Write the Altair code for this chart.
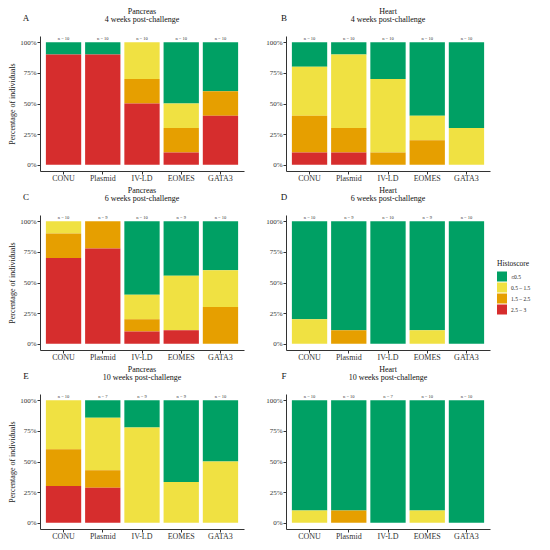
import altair as alt
import pandas as pd

groups = ["CONU", "Plasmid", "IV-LD", "EOMES", "GATA3"]
scores = ["≤0.5", "0.5 – 1.5", "1.5 – 2.5", "2.5 – 3"]
colors = ["#00A064", "#F0E142", "#E69F00", "#D62D2D"]

# counts of individuals per histoscore class, per group (CONU, Plasmid, IV-LD, EOMES, GATA3)
A_green = [1, 1, 0, 5, 4]
A_yellow = [0, 0, 3, 2, 0]
A_orange = [0, 0, 2, 2, 2]
A_red = [9, 9, 5, 1, 4]

B_green = [2, 1, 3, 6, 7]
B_yellow = [4, 6, 6, 2, 3]
B_orange = [3, 2, 1, 2, 0]
B_red = [1, 1, 0, 0, 0]

C_green = [0, 0, 6, 4, 4]
C_yellow = [1, 0, 2, 4, 3]
C_orange = [2, 2, 1, 0, 3]
C_red = [7, 7, 1, 1, 0]

D_green = [8, 8, 10, 8, 10]
D_yellow = [2, 0, 0, 1, 0]
D_orange = [0, 1, 0, 0, 0]
D_red = [0, 0, 0, 0, 0]

E_green = [0, 1, 2, 6, 5]
E_yellow = [4, 3, 7, 3, 5]
E_orange = [3, 1, 0, 0, 0]
E_red = [3, 2, 0, 0, 0]

F_green = [9, 9, 7, 9, 10]
F_yellow = [1, 0, 0, 1, 0]
F_orange = [0, 1, 0, 0, 0]
F_red = [0, 0, 0, 0, 0]

panels = [
    ("A", "Pancreas", 4, [A_green, A_yellow, A_orange, A_red]),
    ("B", "Heart", 4, [B_green, B_yellow, B_orange, B_red]),
    ("C", "Pancreas", 6, [C_green, C_yellow, C_orange, C_red]),
    ("D", "Heart", 6, [D_green, D_yellow, D_orange, D_red]),
    ("E", "Pancreas", 10, [E_green, E_yellow, E_orange, E_red]),
    ("F", "Heart", 10, [F_green, F_yellow, F_orange, F_red]),
]

FONT = "Liberation Serif"
W, H = 204, 135

legend = alt.Legend(
    title="Histoscore", orient="none", legendX=457, legendY=224,
    symbolType="square", symbolSize=100, symbolStrokeWidth=0,
    titleFontSize=7.5, titleFontWeight="normal", titleColor="#111",
    labelFontSize=5.5, labelColor="#222", rowPadding=1, titlePadding=4,
)


def make_panel(letter, organ, weeks, counts, left):
    rows = []
    for si, s in enumerate(scores):
        for gi, g in enumerate(groups):
            rows.append({"group": g, "score": s, "count": counts[si][gi], "ord": 3 - si})
    d = pd.DataFrame(rows)
    nd = pd.DataFrame({
        "group": groups,
        "label": ["n = %d" % sum(c[gi] for c in counts) for gi in range(len(groups))],
    })
    yaxis = alt.Axis(values=[0, 0.25, 0.5, 0.75, 1], format=".0%", labelOverlap=False,
                     title="Percentage of individuals" if left else None,
                     labelFontSize=7, labelColor="#333", tickSize=3, labelPadding=1,
                     titleFontSize=8, titleFontWeight="normal", titleColor="#222",
                     titlePadding=3)
    yscale = alt.Scale(domain=[-0.05, 1.05], nice=False, zero=False)
    xenc = alt.X("group:N", sort=groups,
                 scale=alt.Scale(paddingInner=0.1, paddingOuter=0.15),
                 axis=alt.Axis(title=None, labelAngle=0, labelFontSize=8, labelColor="#333",
                               tickSize=3, labelPadding=0))
    bars = alt.Chart(d).mark_bar().encode(
        x=xenc,
        y=alt.Y("count:Q", stack="normalize", scale=yscale, axis=yaxis),
        color=alt.Color("score:N", scale=alt.Scale(domain=scores, range=colors), legend=legend),
        order=alt.Order("ord:Q"),
    )
    ntext = alt.Chart(nd).mark_text(fontSize=4.5, baseline="bottom", dy=-1, color="#333").encode(
        x=xenc,
        y=alt.YDatum(1.0, type="quantitative", scale=yscale, axis=yaxis),
        text="label:N",
    )
    head = pd.DataFrame({"t": [letter, organ, "%d weeks post-challenge" % weeks],
                         "k": ["letter", "l1", "l2"]})
    lab = alt.Chart(head).transform_filter(alt.datum.k == "letter").mark_text(
        fontSize=9, color="#111", align="center", baseline="middle").encode(
        text="t:N", x=alt.value(-14 if left else -2), y=alt.value(-18))
    t1 = alt.Chart(head).transform_filter(alt.datum.k == "l1").mark_text(
        fontSize=8, color="#111", align="center", baseline="middle").encode(
        text="t:N", x=alt.value(W / 2), y=alt.value(-24))
    t2 = alt.Chart(head).transform_filter(alt.datum.k == "l2").mark_text(
        fontSize=8, color="#111", align="center", baseline="middle").encode(
        text="t:N", x=alt.value(W / 2), y=alt.value(-16))
    return alt.layer(bars, ntext, lab, t1, t2).properties(width=W, height=H)


charts = [make_panel(l, o, w, c, i % 2 == 0) for i, (l, o, w, c) in enumerate(panels)]
left_col = alt.vconcat(charts[0], charts[2], charts[4], spacing=5)
right_col = alt.vconcat(charts[1], charts[3], charts[5], spacing=5)
chart = alt.hconcat(left_col, right_col, spacing=21).resolve_scale(color="shared").properties(
    padding={"left": 0, "top": 0, "right": 0, "bottom": 0}
).configure(font=FONT).configure_view(stroke=None).configure_axis(
    grid=False, domainColor="#333", tickColor="#333"
)

chart.save("out.html", embed_options={"renderer": "svg", "actions": False})
